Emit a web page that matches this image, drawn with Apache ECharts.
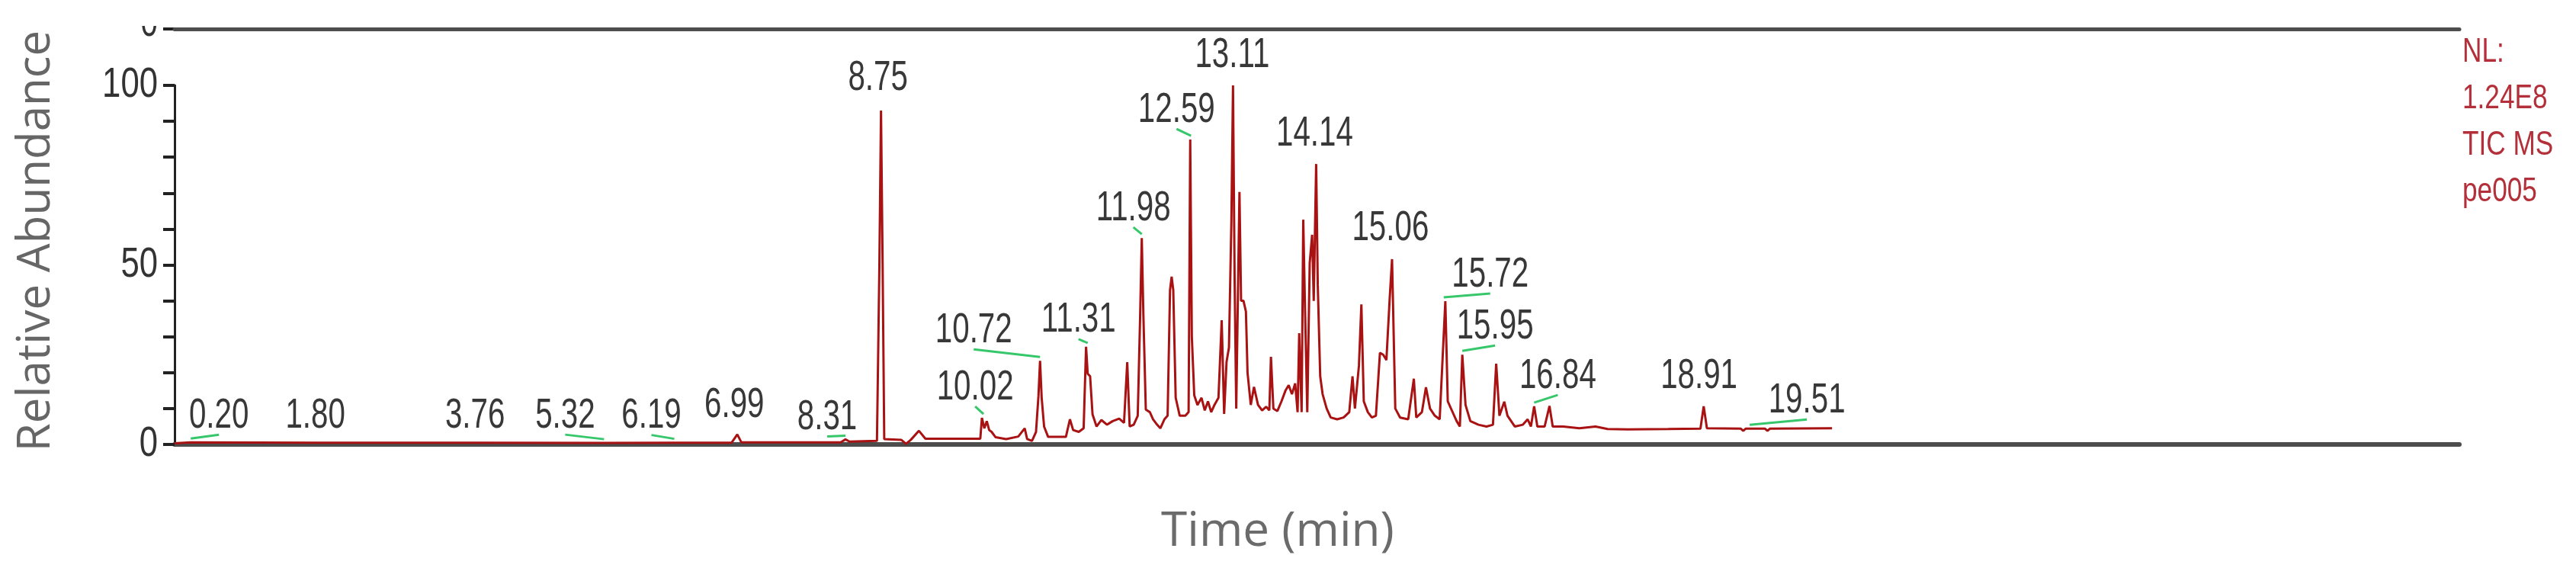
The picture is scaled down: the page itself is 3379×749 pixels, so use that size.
<!DOCTYPE html>
<html>
<head>
<meta charset="utf-8">
<title>TIC MS pe005</title>
<script src="https://cdn.jsdelivr.net/npm/echarts@6/dist/echarts.min.js"></script>
<style>
  html, body { margin: 0; padding: 0; background: #fff; }
  #chart { width: 3379px; height: 749px; }
</style>
</head>
<body>
<div id="chart"></div>
<script>
// retention time (min) and relative abundance (%) of the TIC trace
const traceTime = [
  0.00, 0.20, 1.80, 3.76, 5.32, 6.19, 6.90, 6.97, 7.02, 8.25, 8.31, 8.36, 8.70, 8.73, 8.75, 8.77, 8.79,
  9.00, 9.06, 9.12, 9.22, 9.30, 9.98, 10.00, 10.03, 10.06, 10.09, 10.12, 10.17, 10.30, 10.45, 10.53, 10.56,
  10.62, 10.67, 10.70, 10.72, 10.74, 10.77, 10.82, 11.04, 11.09, 11.13, 11.20, 11.26, 11.29, 11.31, 11.34,
  11.37, 11.42, 11.48, 11.55, 11.62, 11.70, 11.76, 11.80, 11.83, 11.88, 11.93, 11.96, 11.98, 12.00, 12.03,
  12.08, 12.12, 12.17, 12.21, 12.26, 12.30, 12.33, 12.35, 12.37, 12.40, 12.45, 12.52, 12.56, 12.58, 12.60,
  12.63, 12.67, 12.72, 12.76, 12.80, 12.84, 12.88, 12.93, 12.97, 13.00, 13.03, 13.06, 13.09, 13.11, 13.13,
  13.15, 13.19, 13.21, 13.24, 13.27, 13.29, 13.33, 13.37, 13.42, 13.47, 13.52, 13.56, 13.58, 13.61, 13.66,
  13.71, 13.76, 13.80, 13.84, 13.88, 13.91, 13.93, 13.96, 13.98, 14.00, 14.03, 14.06, 14.09, 14.11, 14.14,
  14.16, 14.19, 14.22, 14.27, 14.32, 14.40, 14.48, 14.55, 14.59, 14.62, 14.67, 14.70, 14.73, 14.78, 14.83,
  14.88, 14.93, 14.97, 15.01, 15.05, 15.08, 15.12, 15.18, 15.28, 15.35, 15.38, 15.45, 15.50, 15.55, 15.61,
  15.67, 15.74, 15.77, 15.82, 15.88, 15.92, 15.95, 15.99, 16.05, 16.15, 16.25, 16.33, 16.37, 16.41, 16.47,
  16.51, 16.60, 16.70, 16.76, 16.80, 16.84, 16.88, 16.97, 17.03, 17.07, 17.20, 17.40, 17.60, 17.75, 18.00,
  18.50, 18.90, 18.94, 18.98, 19.40, 19.43, 19.46, 19.51, 19.70, 19.73, 19.76, 20.53
]
const traceAbund = [
  0.3, 0.6, 0.5, 0.5, 0.4, 0.5, 0.5, 2.8, 0.6, 0.6, 1.4, 0.8, 1.0, 50, 93, 50, 1.5,
  1.3, 0.2, 1.3, 3.8, 1.6, 1.6, 7.4, 4.5, 6.5, 4.0, 3.5, 2.0, 1.5, 2.2, 4.5, 1.5,
  1.0, 3.5, 13.4, 23.3, 13, 5, 2.1, 2.1, 7.0, 4.0, 3.5, 4.5, 27.2, 19.7, 19,
  8.4, 5, 6.8, 5.5, 6.5, 7.2, 6, 22.9, 5, 5.5, 8, 36, 57.5, 36, 9.7,
  9, 7, 5.5, 4.5, 7, 8, 43, 46.7, 43, 13, 8, 8, 9, 84.9, 30,
  13.7, 11, 13, 9.5, 12, 9, 11, 13, 34.6, 8.5, 23, 27, 62.2, 100, 46,
  10, 70.3, 40, 40, 37, 20, 11, 16, 11, 9.5, 10.5, 9.5, 24.4, 10, 9.3,
  12, 15, 16.5, 14, 17, 9, 31, 9, 62.6, 40, 9, 50.5, 58.4, 40, 78.1,
  44.4, 19, 14, 10, 7.5, 7, 7.5, 9, 19, 10, 22, 39, 12, 9, 7.5,
  8, 25.5, 25, 23.5, 40.3, 51.6, 10, 7.5, 7, 18.3, 7.5, 9, 15.9, 10, 8,
  7, 39.9, 12, 9.5, 6.5, 5, 25, 11, 6.5, 5.5, 5, 5.5, 22.5, 8, 11.9,
  8, 5, 5.5, 7, 5, 10.6, 5, 5, 10.7, 5, 5, 4.5, 5, 4.3, 4.2,
  4.3, 4.4, 10.6, 4.5, 4.4, 3.8, 4.4, 4.4, 4.4, 3.8, 4.4, 4.5
]

// retention times written above the peaks
const peakLabels = ['0.20', '1.80', '3.76', '5.32', '6.19', '6.99', '8.31', '8.75', '10.02', '10.72', '11.31',
  '11.98', '12.59', '13.11', '14.14', '15.06', '15.72', '15.95', '16.84', '18.91', '19.51']

const yTicks = [0, 50, 100]
const sideNotes = ['NL:', '1.24E8', 'TIC MS', 'pe005']

// label placement in px relative to the peak top: [dx, dy, green link]
const labelLayout = [
  [37, -35, 1], [-6, -35, 0], [-4, -35, 0], [-51, -36, 1], [-30, -35, 1], [-6, -38, 0], [-24, -29, 1],
  [-4, -42, 0], [-11, -40, 1], [-87, -40, 1], [-12, -35, 1], [-11, -39, 1], [-19, -39, 1], [-1, -39, 0],
  [-2, -40, 0], [0, -40, 0], [61, -35, 1], [43, -37, 1], [31, -40, 1], [-3, -40, 0], [75, -37, 1]
]

const trace = traceTime.map((t, i) => [t, traceAbund[i]])

function peakTop(t) {
  let best = 0
  traceTime.forEach((x, i) => {
    if (Math.abs(x - t) <= 0.04 && traceAbund[i] > best) best = traceAbund[i]
  })
  return best
}
const peakData = peakLabels.map(s => [parseFloat(s), peakTop(parseFloat(s))])

// the instrument font is a narrow Arial, so plain Arial metrics get squeezed
const digitFont = '56px "Liberation Sans", Arial, sans-serif'
const squeeze = 0.72
const titleFont = '"Open Sans", "Noto Sans", sans-serif'

const chart = echarts.init(document.getElementById('chart'), null, { renderer: 'canvas' })

chart.setOption({
  animation: false,
  backgroundColor: '#fff',
  grid: { left: 229, right: 153, top: 112, bottom: 166 },
  xAxis: [{
    type: 'value',
    min: 0,
    max: 28.3,
    axisLine: { show: true, onZero: false, lineStyle: { color: '#4d4d4d', width: 6 } },
    axisTick: { show: false },
    axisLabel: { show: false },
    splitLine: { show: false }
  }, {
    type: 'value',
    position: 'top',
    offset: 74,
    min: 0,
    max: 28.3,
    axisLine: { show: true, onZero: false, lineStyle: { color: '#4d4d4d', width: 5 } },
    axisTick: { show: false },
    axisLabel: { show: false },
    splitLine: { show: false }
  }],
  yAxis: {
    type: 'value',
    min: 0,
    max: 100,
    interval: 10,
    axisLine: { show: true, lineStyle: { color: '#222', width: 3 } },
    axisTick: { show: true, inside: false, length: 15, lineStyle: { color: '#222', width: 4 } },
    axisLabel: { show: false },
    splitLine: { show: false }
  },
  graphic: [
    {
      type: 'text', x: 48, y: 316, rotation: Math.PI / 2,
      style: { text: 'Relative Abundance', fill: '#666', font: '60px ' + titleFont, align: 'center', verticalAlign: 'middle' }
    },
    {
      type: 'text', x: 1676, y: 698,
      style: { text: 'Time (min)', fill: '#6b6b6b', font: '62px ' + titleFont, align: 'center', verticalAlign: 'middle' }
    },
    // remnant of the trace above: its zero label and tick
    {
      type: 'text', x: 207, y: 60, scaleX: squeeze,
      style: { text: '0', fill: '#333', font: digitFont, align: 'right', verticalAlign: 'bottom' }
    },
    { type: 'rect', shape: { x: 150, y: 0, width: 70, height: 34 }, style: { fill: '#fff' } },
    { type: 'line', shape: { x1: 214, y1: 38, x2: 229, y2: 38 }, style: { stroke: '#222', lineWidth: 4 } }
  ].concat(sideNotes.map((s, i) => ({
    type: 'text', x: 3230, y: 69 + i * 61, scaleX: 0.8,
    style: { text: s, fill: '#b3303a', font: '44px "Liberation Sans", Arial, sans-serif', align: 'left', verticalAlign: 'middle' }
  }))),
  series: [
    {
      name: 'TIC',
      type: 'line',
      data: trace,
      symbol: 'none',
      sampling: 'none',
      lineStyle: { color: '#a81212', width: 3 },
      z: 3
    },
    {
      // y tick labels 0 / 50 / 100, placed through the value axis
      name: 'yLabels',
      type: 'custom',
      data: yTicks.map(v => [0, v]),
      clip: false,
      silent: true,
      z: 4,
      renderItem(params, api) {
        const p = api.coord([api.value(0), api.value(1)])
        return {
          type: 'text',
          x: 207,
          y: p[1],
          scaleX: squeeze + 0.06,
          style: { text: String(api.value(1)), fill: '#333', font: digitFont, align: 'right', verticalAlign: 'middle' }
        }
      }
    },
    {
      name: 'peaks',
      type: 'custom',
      data: peakData,
      clip: false,
      z: 4,
      renderItem(params, api) {
        const i = params.dataIndex
        const p = api.coord([api.value(0), api.value(1)])
        const lay = labelLayout[i]
        const lx = p[0] + lay[0]
        const ly = p[1] + lay[1]
        const children = [{
          type: 'text',
          x: lx,
          y: ly,
          scaleX: squeeze,
          style: {
            text: peakLabels[i],
            fill: '#383838',
            font: digitFont,
            align: 'center',
            verticalAlign: 'middle'
          }
        }]
        if (lay[2]) {
          children.push({
            type: 'polyline',
            shape: { points: [[p[0], p[1] - 5], [lx, ly + 25]] },
            style: { stroke: '#36c76a', lineWidth: 3, fill: null }
          })
        }
        return { type: 'group', children }
      }
    }
  ]
})
</script>
</body>
</html>
